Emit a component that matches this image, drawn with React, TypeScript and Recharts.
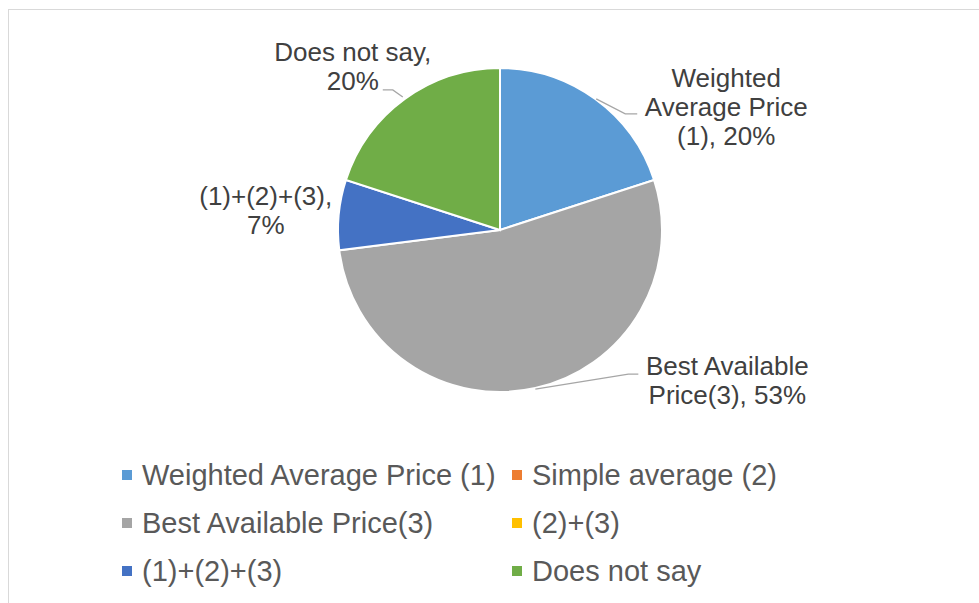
import { Cell, Legend, Pie, PieChart } from "recharts";

const categories = [
  "Weighted Average Price (1)",
  "Simple average (2)",
  "Best Available Price(3)",
  "(2)+(3)",
  "(1)+(2)+(3)",
  "Does not say",
];
const shares = [20, 0, 53, 0, 7, 20];
const colors = ["#5B9BD5", "#ED7D31", "#A5A5A5", "#FFC000", "#4472C4", "#70AD47"];
// data label text, wrapped the way the source chart wraps it
const labelLines = [
  ["Weighted", "Average Price", "(1), 20%"],
  [],
  ["Best Available", "Price(3), 53%"],
  [],
  ["(1)+(2)+(3),", "7%"],
  ["Does not say,", "20%"],
];

const data = categories.map((name, i) => ({ name, value: shares[i] }));

const FONT = '"Liberation Sans", Arial, sans-serif';
const RAD = Math.PI / 180;

// label offsets from the slice's outer edge point, plus leader line elbows
const placements: Record<number, { dx: number; dy: number; leader?: number[][] }> = {
  0: { dx: 131, dy: -12, leader: [[1, 0], [30, 15], [42, 15]] },
  2: { dx: 192, dy: -13, leader: [[0, 1], [93, -14], [103, -14]] },
  4: { dx: -73, dy: -10 },
  5: { dx: -52, dy: -38, leader: [[-2, -2], [-12, -9], [-22, -9]] },
};

function renderLabel(props: any) {
  const { cx, cy, midAngle, outerRadius, index } = props;
  const p = placements[index];
  if (!p || shares[index] === 0) return null;
  const px = cx + outerRadius * Math.cos(-midAngle * RAD);
  const py = cy + outerRadius * Math.sin(-midAngle * RAD);
  const lines = labelLines[index];
  return (
    <g key={`lbl-${index}`}>
      {p.leader && (
        <polyline
          points={p.leader.map(([x, y]) => `${px + x},${py + y}`).join(" ")}
          fill="none"
          stroke="#A6A6A6"
          strokeWidth={1.3}
        />
      )}
      <text x={px + p.dx} y={py + p.dy} textAnchor="middle" fill="#404040" fontSize={26} fontFamily={FONT}>
        {lines.map((l, i) => (
          <tspan key={i} x={px + p.dx} dy={i === 0 ? 0 : 29}>
            {l}
          </tspan>
        ))}
      </text>
    </g>
  );
}

function renderLegend(props: any) {
  const payload = props.payload || [];
  const colX = [122, 512];
  const rowY = [475, 523, 571];
  return (
    <div style={{ position: "relative", width: 979, height: 603 }}>
      {categories.map((name, i) => {
        const entry = payload.find((e: any) => e.value === name);
        const col = i % 2;
        const row = Math.floor(i / 2);
        return (
          <div
            key={name}
            style={{
              position: "absolute",
              left: colX[col],
              top: rowY[row] - 17,
              height: 34,
              display: "flex",
              alignItems: "center",
              whiteSpace: "nowrap",
              fontFamily: FONT,
              fontSize: 29,
              color: "#595959",
            }}
          >
            <span
              style={{
                display: "inline-block",
                width: 10,
                height: 10,
                marginRight: 10,
                background: (entry && entry.color) || colors[i],
              }}
            />
            {name}
          </div>
        );
      })}
    </div>
  );
}

export default function App() {
  return (
    <div style={{ position: "absolute", left: 0, top: 0, width: 979, height: 603, overflow: "hidden", background: "#fff" }}>
      <div
        style={{
          position: "absolute",
          left: 8,
          top: 9,
          width: 1100,
          height: 700,
          border: "1px solid #D9D9D9",
        }}
      />
      <PieChart width={979} height={603} margin={{ top: 0, right: 0, bottom: 0, left: 0 }}>
        <Pie
          data={data}
          dataKey="value"
          nameKey="name"
          cx={500}
          cy={230}
          outerRadius={162}
          startAngle={90}
          endAngle={-270}
          stroke="#FFFFFF"
          strokeWidth={2}
          label={renderLabel}
          labelLine={false}
          isAnimationActive={false}
        >
          {data.map((d, i) => (
            <Cell key={d.name} fill={colors[i]} />
          ))}
        </Pie>
        <Legend
          content={renderLegend}
          wrapperStyle={{ position: "absolute", left: 0, top: 0, width: 979, height: 603 }}
        />
      </PieChart>
    </div>
  );
}
